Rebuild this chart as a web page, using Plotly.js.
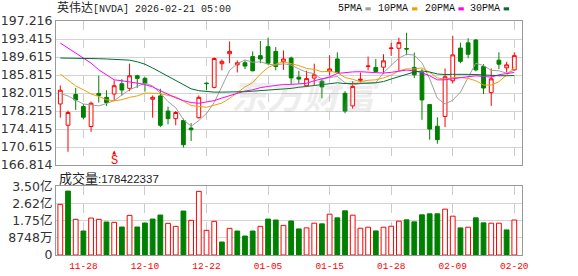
<!DOCTYPE html>
<html>
<head>
<meta charset="utf-8">
<script src="https://cdn.plot.ly/plotly-3.0.1.min.js"></script>
<style>html,body{margin:0;padding:0;background:#fff;}#chart{width:578px;height:276px;}</style>
</head>
<body>
<div id="chart"></div>
<script>
const dates = ['2025-11-24','2025-11-25','2025-11-26','2025-11-28','2025-12-01','2025-12-02','2025-12-03','2025-12-04','2025-12-05','2025-12-08',
'2025-12-09','2025-12-10','2025-12-11','2025-12-12','2025-12-15','2025-12-16','2025-12-17','2025-12-18','2025-12-19','2025-12-22',
'2025-12-23','2025-12-24','2025-12-26','2025-12-29','2025-12-30','2025-12-31','2026-01-02','2026-01-05','2026-01-06','2026-01-07',
'2026-01-08','2026-01-09','2026-01-12','2026-01-13','2026-01-14','2026-01-15','2026-01-16','2026-01-20','2026-01-21','2026-01-22',
'2026-01-23','2026-01-26','2026-01-27','2026-01-28','2026-01-29','2026-01-30','2026-02-02','2026-02-03','2026-02-04','2026-02-05',
'2026-02-06','2026-02-09','2026-02-10','2026-02-11','2026-02-12','2026-02-13','2026-02-17','2026-02-18','2026-02-19','2026-02-20'];

const open  = [179.7,175.2,181.7,179.15,174.95,181.9,181.1,181.8,183.97,183.0,
185.65,185.1,180.7,181.4,178.2,176.6,176.2,174.6,176.8,184.1,
183.2,188.2,190.3,187.96,188.4,189.7,189.9,191.8,190.8,188.66,
189.4,185.35,183.55,185.16,184.5,186.6,189.2,181.95,179.3,184.7,
187.6,187.4,187.47,191.4,191.46,191.4,187.4,186.35,179.57,175.0,
177.05,184.6,191.5,192.6,193.2,187.6,182.1,188.94,187.33,186.9];
const high  = [183.6,178.3,183.1,179.7,180.2,185.65,182.6,184.7,184.95,188.2,
185.86,185.4,181.5,182.9,179.15,178.2,176.6,175.65,181.5,184.2,
189.5,189.1,192.9,188.9,188.9,190.8,193.0,193.7,191.7,191.0,
189.7,186.7,186.7,188.2,184.9,190.0,190.6,182.4,184.5,186.35,
189.7,189.2,190.2,192.6,193.7,194.75,190.55,187.05,179.6,176.9,
187.2,194.1,192.65,193.56,193.4,188.1,187.2,190.6,188.6,190.6];
const low   = [176.8,169.6,178.45,176.5,173.8,180.0,179.3,180.4,181.45,182.4,
183.1,182.3,176.8,174.8,175.4,175.2,170.5,171.9,176.6,182.6,
183.0,186.8,188.3,186.35,187.05,186.6,188.3,188.0,186.8,186.9,
183.9,184.0,183.3,183.7,180.9,185.7,186.3,177.75,178.7,184.25,
186.8,186.35,186.1,189.85,186.56,190.0,185.16,176.35,172.16,171.3,
174.8,184.1,188.3,189.36,186.6,181.8,179.3,187.05,186.35,186.7];
const close = [182.6,177.9,180.55,176.9,179.85,181.5,180.0,183.55,182.64,185.65,
185.1,184.0,181.1,175.2,176.6,177.9,171.1,174.25,181.1,184.0,
189.3,188.7,190.8,188.4,187.7,186.7,189.2,188.3,187.6,189.2,
185.2,184.95,185.05,185.86,183.3,187.1,186.35,178.2,183.4,184.9,
187.7,186.56,188.8,191.5,192.65,191.3,185.86,180.55,174.4,172.16,
185.44,190.06,188.7,190.2,186.9,183.06,185.0,188.1,187.96,189.9];
const prevClose = 178.9;

const volume = [258.2e6,326.1e6,181.8e6,122.3e6,188.5e6,181.8e6,168.2e6,166.5e6,142.7e6,202.1e6,
142.7e6,163.1e6,183.4e6,203.8e6,161.4e6,146.1e6,224.2e6,176.7e6,324.4e6,125.7e6,
171.6e6,66.2e6,135.9e6,122.3e6,96.8e6,122.3e6,146.1e6,183.4e6,178.4e6,151.2e6,
173.5e6,133.1e6,138.3e6,162.2e6,158.8e6,208.3e6,189.5e6,225.3e6,203.1e6,136.6e6,
141.7e6,122.9e6,141.7e6,146.8e6,172.4e6,179.2e6,169.0e6,204.8e6,210.0e6,210.0e6,
233.9e6,198.0e6,138.3e6,141.7e6,189.5e6,163.9e6,162.2e6,162.2e6,128.0e6,178422337];

const ma5 = [181.9,181.4,180.5,179.7,179.5,179.3,179.8,180.4,181.6,182.7,
183.4,184.1,183.5,182.0,180.2,178.9,176.4,175.0,176.2,177.7,
180.0,183.5,186.8,188.2,189.0,188.5,188.6,188.1,187.9,188.2,
187.9,187.1,186.4,186.1,184.9,185.3,185.5,184.2,183.7,184.0,
184.1,184.2,186.3,187.9,189.4,190.2,190.0,188.4,185.0,180.9,
179.7,180.5,182.2,185.3,188.3,187.8,186.8,186.7,186.2,186.8];
const ma10 = [186.0,184.8,183.5,182.7,181.8,181.3,180.6,180.35,180.6,181.1,
181.4,182.0,182.0,181.9,181.5,181.2,180.3,179.35,179.2,179.0,
179.45,179.9,180.9,182.2,183.3,184.2,186.0,187.4,188.1,188.6,
188.2,187.8,187.2,187.0,186.5,186.6,186.3,185.3,184.9,184.4,
184.7,184.8,185.2,185.8,186.7,187.1,187.1,187.3,186.4,185.2,
184.9,185.3,185.3,185.1,184.6,183.7,183.7,184.4,185.8,187.5];
const ma20 = [192.56,191.5,190.45,189.52,188.33,186.9,185.85,184.8,184.6,184.4,
184.1,183.8,183.3,182.5,181.7,181.0,180.4,180.0,179.85,180.07,
180.41,180.95,181.46,182.04,182.43,182.69,183.15,183.39,183.64,183.82,
183.82,183.87,184.07,184.6,184.93,185.39,186.15,186.35,186.47,186.51,
186.43,186.32,186.22,186.38,186.63,186.86,186.69,186.3,185.64,184.79,
184.8,185.06,185.24,185.46,185.64,185.44,185.37,185.87,186.1,186.35];
const ma30 = [189.4,189.4,189.35,189.3,189.3,189.25,189.2,189.1,189.05,188.95,
188.6,188.1,187.3,186.4,185.5,184.6,183.7,182.9,182.5,182.3,
182.2,182.2,182.2,182.25,182.3,182.4,182.5,182.6,182.75,182.91,
182.99,183.22,183.37,183.67,183.79,183.97,184.18,184.0,184.03,184.0,
184.09,184.17,184.43,184.97,185.51,185.96,186.45,186.66,186.44,186.04,
185.91,185.96,185.89,185.95,185.92,185.8,185.66,185.65,185.66,185.69];

const priceTicks = ['166.814','170.615','174.415','178.215','182.015','185.815','189.615','193.415','197.216'];
const volTickVals = [0, 87.48e6, 174.96e6, 262.44e6, 349.92e6];
const volTickText = ['0','8748万','1.75亿','2.62亿','3.50亿'];
const dateTickVals = ['2025-11-28','2025-12-10','2025-12-22','2026-01-05','2026-01-15','2026-01-28','2026-02-09','2026-02-20'];
const dateTickText = ['11-28','12-10','12-22','01-05','01-15','01-28','02-09','02-20'];
const maNames = ['5PMA','10PMA','20PMA','30PMA'];
const maColors = ['#a0a0a0','#f0a000','#ff00ff','#006f2e'];
const titleText = '英伟达[NVDA] 2026-02-21 05:00';
const volLabel = '成交量';
const markerDate = '2025-12-04';

const RED = '#ff0000', GREEN = '#008000';

// plot geometry helpers (pixels -> paper)
const L = 56, R = 522, T = 21, B = 255;
const px = x => (x - L) / (R - L);
const py = y => (B - y) / (B - T);

const volUp = close.map((c, i) => c >= (i === 0 ? prevClose : close[i - 1]));

const traces = [
  {
    type: 'candlestick', x: dates, open: open, high: high, low: low, close: close,
    xaxis: 'x', yaxis: 'y', whiskerwidth: 0, showlegend: false, hoverinfo: 'skip',
    increasing: {line: {color: RED, width: 1}, fillcolor: '#ffffff'},
    decreasing: {line: {color: GREEN, width: 1}, fillcolor: GREEN}
  }
];
[ma5, ma10, ma20, ma30].forEach((m, k) => {
  traces.push({type: 'scatter', mode: 'lines', x: dates, y: m, name: maNames[k],
    xaxis: 'x', yaxis: 'y', line: {color: maColors[k], width: 1}, showlegend: false, hoverinfo: 'skip'});
});
traces.push({
  type: 'bar', x: dates, y: volume, xaxis: 'x2', yaxis: 'y2', showlegend: false, hoverinfo: 'skip',
  marker: {color: volUp.map(u => u ? '#ffffff' : GREEN), line: {color: volUp.map(u => u ? RED : GREEN), width: 1}}
});

const tickFont = {family: 'DejaVu Sans, Noto Sans CJK SC', size: 12.5, color: '#333'};
const xCommon = {
  type: 'category', range: [-0.56, 60], tickvals: dateTickVals, ticktext: dateTickText,
  showgrid: true, gridcolor: '#cccccc', griddash: 'dash', gridwidth: 1,
  showline: true, mirror: true, linecolor: '#999', linewidth: 1, zeroline: false, fixedrange: true
};

const annotations = [
  {xref: 'paper', yref: 'paper', x: px(58), y: py(177.5), xanchor: 'left', yanchor: 'middle', showarrow: false,
   borderpad: 0, text: volLabel + '<span style="font-family:Liberation Sans;font-size:11.5px">:' + volume[volume.length - 1] + '</span>',
   font: {family: 'Noto Sans CJK SC', size: 13, color: '#222'}},
  {xref: 'paper', yref: 'paper', x: px(305), y: py(93), xanchor: 'center', yanchor: 'middle', showarrow: false,
   text: '<b><i>东方财富</i></b>', font: {family: 'Noto Sans CJK SC', size: 36, color: 'rgba(160,160,160,0.2)'}},
  {xref: 'x', yref: 'paper', x: markerDate, y: py(150.5), showarrow: true, ax: 0, ay: 10.5,
   arrowhead: 2, arrowsize: 0.8, arrowwidth: 1, arrowcolor: RED, standoff: 0, startstandoff: 0,
   borderpad: 0, text: 'S', font: {family: 'Liberation Mono', size: 12, color: RED}}
];
const legendRight = [362.7, 409.3, 455.7, 501];
const shapes = [];
maNames.forEach((n, k) => {
  annotations.push({xref: 'paper', yref: 'paper', x: px(legendRight[k]), y: py(8.8), xanchor: 'right', yanchor: 'middle',
    showarrow: false, borderpad: 0, text: n, font: {family: 'Liberation Mono', size: 10, color: '#111'}});
  shapes.push({type: 'rect', xref: 'paper', yref: 'paper', x0: px(legendRight[k] + 2.7), x1: px(legendRight[k] + 8.1),
    y0: py(10.4), y1: py(7.3), line: {width: 0}, fillcolor: maColors[k]});
});

const layout = {
  width: 578, height: 276, margin: {l: L, r: 578 - R, t: T, b: 276 - B, pad: 0},
  paper_bgcolor: '#ffffff', plot_bgcolor: '#ffffff', hovermode: false, dragmode: false,
  showlegend: false, boxgap: 0.3,
  title: {text: '<span style="font-size:12px">英伟达</span>' + titleText.slice(3), x: 57 / 578, xanchor: 'left', xref: 'container',
          y: 1 - 8 / 276, yanchor: 'middle', yref: 'container', pad: {l: 0, r: 0, t: 0, b: 0},
          font: {family: 'Liberation Mono, Noto Sans CJK SC', size: 10, color: '#222'}},
  xaxis: Object.assign({}, xCommon, {anchor: 'y', showticklabels: false, ticks: '', rangeslider: {visible: false}}),
  xaxis2: Object.assign({}, xCommon, {anchor: 'y2', matches: 'x', showticklabels: true, ticks: 'outside', ticklen: 2,
          tickcolor: 'rgba(0,0,0,0)', tickfont: {family: 'Liberation Mono', size: 9.5, color: RED}}),
  yaxis: {domain: [py(165), 1], range: [166.814, 197.216], tickvals: priceTicks.map(Number), ticktext: priceTicks,
          showgrid: true, gridcolor: '#d4d4d4', gridwidth: 1, showline: true, mirror: true, linecolor: '#999',
          zeroline: false, ticks: '', tickfont: tickFont, fixedrange: true},
  yaxis2: {domain: [0, py(186.4)], range: [0, 349.92e6], tickvals: volTickVals, ticktext: volTickText,
          showgrid: true, gridcolor: '#d4d4d4', gridwidth: 1, showline: true, mirror: true, linecolor: '#999',
          zeroline: false, ticks: '', tickfont: tickFont, fixedrange: true},
  bargap: 0.38,
  annotations: annotations, shapes: shapes
};

Plotly.newPlot('chart', traces, layout, {displayModeBar: false, staticPlot: true});
</script>
</body>
</html>
